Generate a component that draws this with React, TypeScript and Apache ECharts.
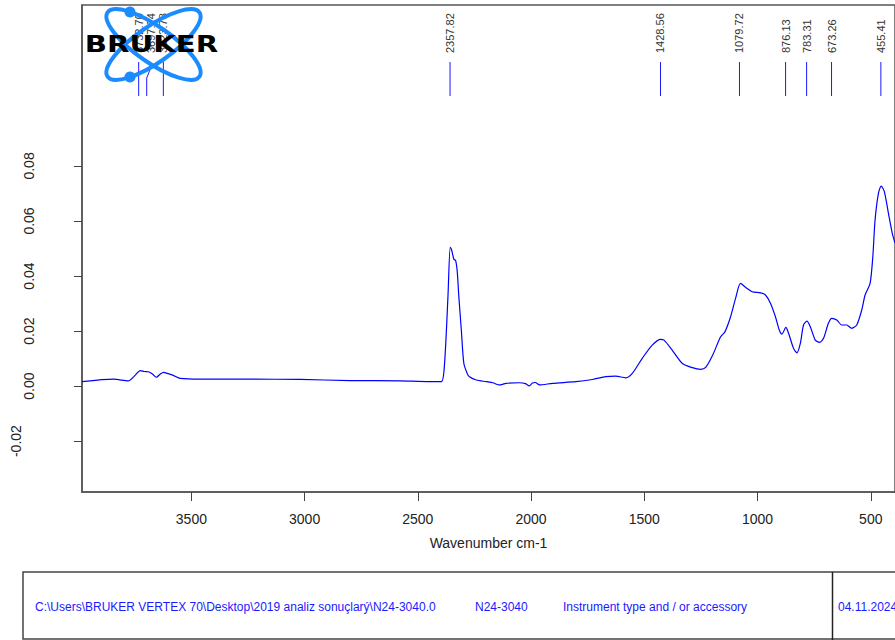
import React, { useEffect, useRef } from "react";
import * as echarts from "echarts";

const wavenumbers = [3983, 3844, 3778, 3752, 3725, 3708, 3690, 3672, 3655, 3637, 3624, 3602, 3580, 3549, 3461, 3241, 3020, 2800, 2580, 2448, 2396, 2382, 2367, 2357, 2350, 2341, 2333, 2326, 2319, 2308, 2297, 2282, 2272, 2242, 2198, 2169, 2140, 2110, 2052, 2025, 2008, 1994, 1981, 1963, 1905, 1802, 1729, 1670, 1626, 1582, 1553, 1509, 1465, 1428, 1413, 1377, 1333, 1288, 1251, 1229, 1200, 1163, 1144, 1119, 1097, 1075, 1053, 1024, 987, 965, 943, 921, 904, 892, 875, 863, 841, 826, 811, 797, 782, 767, 745, 726, 709, 687, 672, 650, 628, 606, 584, 562, 540, 525, 503, 491, 481, 466, 454, 440, 422, 405, 393];

const absorbance = [0.0016, 0.0025, 0.0019, 0.0036, 0.0056, 0.0053, 0.0052, 0.0044, 0.0032, 0.0044, 0.0050, 0.0045, 0.0039, 0.0028, 0.0025, 0.0025, 0.0024, 0.0020, 0.0019, 0.0016, 0.0016, 0.0083, 0.0325, 0.0504, 0.0492, 0.0461, 0.0456, 0.0416, 0.0325, 0.0204, 0.0083, 0.0046, 0.0034, 0.0022, 0.0016, 0.0012, 0.0004, 0.0010, 0.0012, 0.0009, 0.0001, 0.0011, 0.0013, 0.0004, 0.0010, 0.0016, 0.0024, 0.0034, 0.0036, 0.0030, 0.0046, 0.0101, 0.0149, 0.0170, 0.0167, 0.0131, 0.0083, 0.0067, 0.0061, 0.0068, 0.0109, 0.0179, 0.0197, 0.0252, 0.0319, 0.0373, 0.0359, 0.0343, 0.0339, 0.0331, 0.0301, 0.0252, 0.0204, 0.0189, 0.0213, 0.0192, 0.0137, 0.0121, 0.0155, 0.0222, 0.0236, 0.0216, 0.0167, 0.0159, 0.0173, 0.0228, 0.0246, 0.0240, 0.0222, 0.0222, 0.0210, 0.0222, 0.0276, 0.0331, 0.0373, 0.0470, 0.0604, 0.0701, 0.0727, 0.0707, 0.0628, 0.0555, 0.0520];

const peakWavenumbers = [3732.7, 3697.24, 3623.78, 2357.82, 1428.56, 1079.72, 876.13, 783.31, 673.26, 455.41];
const peakLabels = ["3732.70", "3697.24", "3623.78", "2357.82", "1428.56", "1079.72", "876.13", "783.31", "673.26", "455.41"];

const xTicks = [3500, 3000, 2500, 2000, 1500, 1000, 500];
const yTicks = [-0.02, 0.0, 0.02, 0.04, 0.06, 0.08];

const xAxisTitle = "Wavenumber cm-1";
const footerPath = "C:\\Users\\BRUKER VERTEX 70\\Desktop\\2019 analiz sonuçlarý\\N24-3040.0";
const footerSample = "N24-3040";
const footerInstrument = "Instrument type and / or accessory";
const footerDate = "04.11.2024";

const FONT = "'Liberation Sans', Arial, sans-serif";
const BLUE = "#1a1aff";
const LOGO_BLUE = "#1a8cff";

export default function App() {
  const ref = useRef<HTMLDivElement>(null);

  useEffect(() => {
    if (!ref.current) return;
    const chart = echarts.init(ref.current, undefined, { renderer: "svg" });

    const spectrum = wavenumbers.map((w, i) => [w, absorbance[i]]);
    const peaks = peakWavenumbers.map((w) => [w, 0]);

    const option: any = {
      animation: false,
      backgroundColor: "#ffffff",
      grid: {
        left: 82,
        right: -2,
        top: 5,
        bottom: 148,
        show: true,
        borderColor: "#555",
        borderWidth: 1.5,
        backgroundColor: "transparent",
      },
      xAxis: {
        type: "value",
        inverse: true,
        min: 393,
        max: 3983,
        name: xAxisTitle,
        nameLocation: "middle",
        nameGap: 44,
        nameTextStyle: { fontFamily: FONT, fontSize: 14, color: "#222" },
        axisLine: { show: true, onZero: false, lineStyle: { color: "#555", width: 1.5 } },
        axisTick: { show: true, inside: false, length: 9, customValues: xTicks, lineStyle: { color: "#444" } },
        axisLabel: {
          customValues: xTicks,
          margin: 20,
          fontFamily: FONT,
          fontSize: 14,
          color: "#222",
          formatter: (v: number) => String(v),
        },
        splitLine: { show: false },
      },
      yAxis: {
        type: "value",
        min: -0.0385,
        max: 0.1385,
        axisLine: { show: true, onZero: false, lineStyle: { color: "#555", width: 1.5 } },
        axisTick: { show: true, inside: false, length: 8, customValues: yTicks, lineStyle: { color: "#444" } },
        axisLabel: {
          customValues: yTicks,
          rotate: 90,
          margin: 46,
          fontFamily: FONT,
          fontSize: 14,
          color: "#222",
          formatter: (v: number) => (v < 0 ? `{neg|${v.toFixed(2)}}` : v.toFixed(2)),
          rich: {
            neg: { fontFamily: FONT, fontSize: 14, color: "#222", padding: [0, 0, 13, 0] },
          },
        },
        splitLine: { show: false },
      },
      series: [
        {
          type: "line",
          data: spectrum,
          showSymbol: false,
          smooth: 0.25,
          lineStyle: { color: "#0000ff", width: 1.2 },
          z: 3,
        },
        {
          type: "custom",
          data: peaks,
          clip: false,
          z: 4,
          encode: { x: 0, y: 1 },
          renderItem: (params: any, api: any) => {
            const i = params.dataIndex;
            const top = params.coordSys.y;
            const xs = peakWavenumbers.map((w) => api.coord([w, 0])[0]);
            const lx: number[] = [];
            xs.forEach((x, j) => lx.push(j === 0 ? x : Math.max(x, lx[j - 1] + 12)));
            const pts = [
              [lx[i], top + 57],
              [lx[i], top + 63],
              [xs[i], top + 73],
              [xs[i], top + 91],
            ];
            return {
              type: "group",
              children: [
                {
                  type: "text",
                  x: lx[i],
                  y: top + 48,
                  rotation: Math.PI / 2,
                  style: {
                    text: peakLabels[i],
                    x: 0,
                    y: 0,
                    fontFamily: FONT,
                    fontSize: 11,
                    fill: "#333",
                    align: "left",
                    verticalAlign: "middle",
                    textAlign: "left",
                    textVerticalAlign: "middle",
                  },
                },
                {
                  type: "polyline",
                  shape: { points: pts },
                  style: { stroke: BLUE, lineWidth: 1, fill: null },
                },
              ],
            };
          },
        },
      ],
      graphic: [
        {
          type: "ellipse",
          x: 153.5,
          y: 44.5,
          rotation: -0.61,
          shape: { cx: 0, cy: 0, rx: 56, ry: 18 },
          style: { fill: "none", stroke: LOGO_BLUE, lineWidth: 4 },
          z: 50,
        },
        {
          type: "ellipse",
          x: 153.5,
          y: 44.5,
          rotation: 0.61,
          shape: { cx: 0, cy: 0, rx: 56, ry: 18 },
          style: { fill: "none", stroke: LOGO_BLUE, lineWidth: 4 },
          z: 50,
        },
        { type: "circle", shape: { cx: 130, cy: 12, r: 5.5 }, style: { fill: LOGO_BLUE }, z: 51 },
        { type: "circle", shape: { cx: 130, cy: 77, r: 5.5 }, style: { fill: LOGO_BLUE }, z: 51 },
        {
          type: "text",
          x: 151.5,
          y: 44,
          scaleX: 1.27,
          z: 60,
          style: {
            text: "BRUKER",
            x: 0,
            y: 0,
            fontFamily: "'DejaVu Sans', sans-serif",
            fontWeight: "bold",
            fontSize: 23,
            fill: "#000",
            textAlign: "center",
            textVerticalAlign: "middle",
          },
        },
        {
          type: "rect",
          shape: { x: 23, y: 572, width: 880, height: 67 },
          style: { fill: "none", stroke: "#444", lineWidth: 1.5 },
        },
        {
          type: "line",
          shape: { x1: 832.5, y1: 572, x2: 832.5, y2: 640 },
          style: { stroke: "#222", lineWidth: 1.5 },
        },
        {
          type: "text",
          x: 35,
          y: 607,
          style: { text: footerPath, fontFamily: FONT, fontSize: 12, fill: BLUE, textVerticalAlign: "middle" },
        },
        {
          type: "text",
          x: 475,
          y: 607,
          style: { text: footerSample, fontFamily: FONT, fontSize: 12, fill: BLUE, textVerticalAlign: "middle" },
        },
        {
          type: "text",
          x: 563,
          y: 607,
          style: { text: footerInstrument, fontFamily: FONT, fontSize: 12, fill: BLUE, textVerticalAlign: "middle" },
        },
        {
          type: "text",
          x: 838,
          y: 607,
          style: { text: footerDate, fontFamily: FONT, fontSize: 12, fill: BLUE, textVerticalAlign: "middle" },
        },
      ],
    };

    chart.setOption(option);
    return () => chart.dispose();
  }, []);

  return (
    <div
      ref={ref}
      style={{ position: "absolute", left: 0, top: 0, width: 895, height: 640, background: "#fff" }}
    />
  );
}
